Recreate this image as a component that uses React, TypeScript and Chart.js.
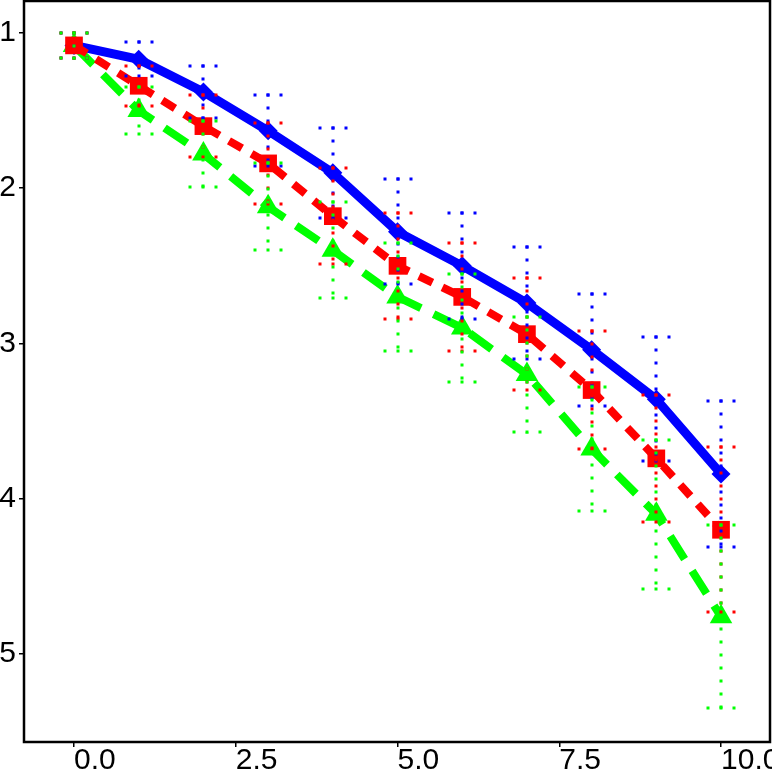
import { useEffect, useRef } from 'react';
import { Chart, registerables, ChartConfiguration, Plugin } from 'chart.js';

Chart.register(...registerables);

const xValues = [0, 1, 2, 3, 4, 5, 6, 7, 8, 9, 10];
const xTicks = [0, 2.5, 5, 7.5, 10];
const yTicks = [1, 2, 3, 4, 5];

const blueValues = [1.08, 1.17, 1.38, 1.63, 1.9, 2.28, 2.5, 2.74, 3.04, 3.36, 3.84];
const blueErrors = [0.08, 0.11, 0.17, 0.23, 0.29, 0.34, 0.34, 0.36, 0.36, 0.4, 0.47];
const redValues = [1.08, 1.34, 1.6, 1.84, 2.18, 2.5, 2.7, 2.94, 3.3, 3.74, 4.2];
const redErrors = [0.08, 0.13, 0.2, 0.26, 0.31, 0.34, 0.35, 0.36, 0.38, 0.41, 0.53];
const greenValues = [1.08, 1.5, 1.78, 2.12, 2.4, 2.7, 2.9, 3.2, 3.68, 4.1, 4.76];
const greenErrors = [0.08, 0.15, 0.21, 0.28, 0.31, 0.35, 0.35, 0.37, 0.4, 0.48, 0.59];

const BLUE = '#0000ff';
const RED = '#ff0000';
const GREEN = '#00ff00';

const toPoints = (values: number[]) => values.map((v, i) => ({ x: xValues[i], y: v }));

// error bars for each dataset, same order as datasets
const errorSets = [blueErrors, redErrors, greenErrors];

const errorBars: Plugin<'line'> = {
  id: 'errorBars',
  afterDatasetsDraw(chart) {
    const { ctx } = chart;
    const x = chart.scales.x;
    const y = chart.scales.y;
    ctx.save();
    ctx.lineWidth = 3;
    ctx.lineCap = 'butt';
    ctx.setLineDash([3, 10]);
    chart.data.datasets.forEach((ds, i) => {
      const errs = errorSets[i];
      ctx.strokeStyle = ds.borderColor as string;
      (ds.data as { x: number; y: number }[]).forEach((p, j) => {
        const px = Math.round(x.getPixelForValue(p.x));
        const top = Math.round(y.getPixelForValue(p.y - errs[j]));
        const bottom = Math.round(y.getPixelForValue(p.y + errs[j]));
        ctx.beginPath();
        ctx.moveTo(px, top - 1.5);
        ctx.lineTo(px, bottom + 1.5);
        ctx.stroke();
        [top, bottom].forEach((cy) => {
          ctx.beginPath();
          ctx.moveTo(px - 14.5, cy);
          ctx.lineTo(px + 14.5, cy);
          ctx.stroke();
        });
      });
    });
    ctx.restore();
  },
};

const frame: Plugin<'line'> = {
  id: 'frame',
  afterDraw(chart) {
    const { ctx, chartArea } = chart;
    ctx.save();
    ctx.strokeStyle = '#000';
    ctx.lineWidth = 2.5;
    ctx.strokeRect(chartArea.left, chartArea.top, chartArea.right - chartArea.left, chartArea.bottom - chartArea.top);
    ctx.restore();
  },
};

const tickFont = { family: "'Liberation Sans', Arial, sans-serif", size: 30 };

export default function App() {
  const chartRef = useRef<HTMLCanvasElement>(null);
  const chartInstance = useRef<Chart | null>(null);

  useEffect(() => {
    document.body.style.margin = '0';
    if (!chartRef.current) return;
    const ctx = chartRef.current.getContext('2d');
    if (!ctx) return;

    const config: ChartConfiguration<'line'> = {
      type: 'line',
      data: {
        datasets: [
          {
            data: toPoints(blueValues),
            borderColor: BLUE,
            backgroundColor: BLUE,
            borderWidth: 9,
            pointStyle: 'rectRot',
            pointRadius: 9.5,
            pointBorderWidth: 0,
            pointBackgroundColor: BLUE,
            order: 2,
          },
          {
            data: toPoints(redValues),
            borderColor: RED,
            backgroundColor: RED,
            borderWidth: 8,
            borderDash: [15, 11],
            pointStyle: 'rect',
            pointRadius: 12.5,
            pointBorderWidth: 0,
            pointBackgroundColor: RED,
            order: 0,
          },
          {
            data: toPoints(greenValues),
            borderColor: GREEN,
            backgroundColor: GREEN,
            borderWidth: 8,
            borderDash: [27, 14],
            pointStyle: 'triangle',
            pointRadius: 13,
            pointBorderWidth: 0,
            pointBackgroundColor: GREEN,
            order: 1,
          },
        ],
      },
      options: {
        responsive: false,
        animation: false,
        events: [],
        layout: { autoPadding: false, padding: { top: 1, right: 2, left: 0, bottom: 0 } },
        elements: { line: { tension: 0 } },
        plugins: {
          legend: { display: false },
          tooltip: { enabled: false },
        },
        scales: {
          x: {
            type: 'linear',
            min: -0.773,
            max: 10.757,
            afterBuildTicks: (scale) => {
              scale.ticks = xTicks.map((v) => ({ value: v }));
            },
            afterFit: (scale) => {
              scale.height = 30;
              scale.paddingLeft = 0;
              scale.paddingRight = 0;
            },
            grid: { drawOnChartArea: false, tickLength: 5, color: '#000', lineWidth: 1.5 },
            border: { display: false },
            ticks: {
              align: 'start',
              autoSkip: false,
              maxRotation: 0,
              minRotation: 0,
              padding: -4,
              color: '#000',
              font: tickFont,
              callback: (v) => Number(v).toFixed(1),
            },
          },
          y: {
            type: 'linear',
            reverse: true,
            min: 0.794,
            max: 5.567,
            afterBuildTicks: (scale) => {
              scale.ticks = yTicks.map((v) => ({ value: v }));
            },
            afterFit: (scale) => {
              scale.width = 24;
              scale.paddingTop = 0;
              scale.paddingBottom = 0;
            },
            grid: { drawOnChartArea: false, tickLength: 5, color: '#000', lineWidth: 1.5 },
            border: { display: false },
            ticks: {
              autoSkip: false,
              padding: 3,
              color: '#000',
              font: tickFont,
              callback: (v) => String(v),
            },
          },
        },
      },
      plugins: [errorBars, frame],
    };

    if (chartInstance.current) {
      chartInstance.current.destroy();
    }
    chartInstance.current = new Chart(ctx, config);

    return () => {
      if (chartInstance.current) {
        chartInstance.current.destroy();
        chartInstance.current = null;
      }
    };
  }, []);

  return (
    <div style={{ width: 772, height: 772 }}>
      <canvas ref={chartRef} width={772} height={772} style={{ display: 'block' }} />
    </div>
  );
}
